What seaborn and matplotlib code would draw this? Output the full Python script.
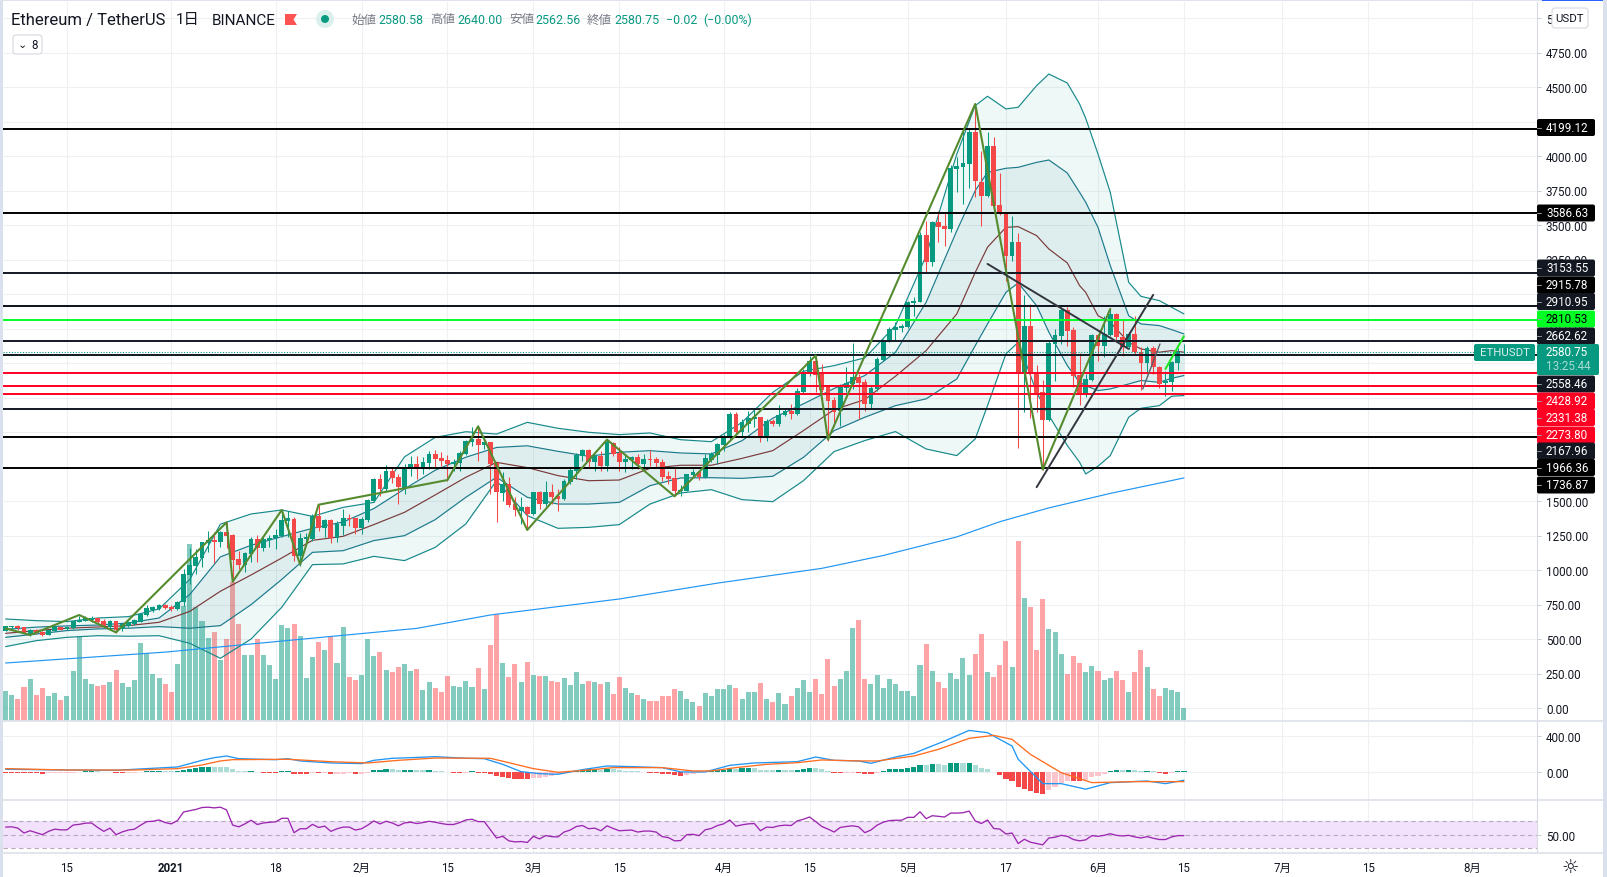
"""ETHUSDT daily chart with bands, zigzag, MACD and RSI panes."""
import matplotlib
matplotlib.use("Agg")
import matplotlib.pyplot as plt
from matplotlib.patches import Circle, FancyBboxPatch, Polygon, Rectangle
import numpy as np
import pandas as pd
import seaborn as sns

# candles, one per day from 2020-12-05 to 2021-06-15
opens = [
    560, 585, 592, 585, 536, 565, 551, 532, 561, 585,
    570, 577, 626, 633, 640, 650, 633, 585, 628, 573,
    597, 609, 626, 674, 713, 718, 744, 734, 718, 766,
    964, 1031, 1087, 1196, 1215, 1205, 1273, 1254, 1080, 1039,
    1116, 1225, 1159, 1220, 1229, 1249, 1357, 1370, 1104, 1225,
    1225, 1394, 1304, 1362, 1229, 1321, 1377, 1374, 1304, 1365,
    1502, 1659, 1587, 1720, 1676, 1587, 1737, 1768, 1732, 1773,
    1841, 1812, 1797, 1766, 1773, 1838, 1930, 1949, 1906, 1925,
    1775, 1558, 1623, 1478, 1430, 1457, 1406, 1563, 1478, 1563,
    1539, 1515, 1635, 1720, 1829, 1870, 1780, 1824, 1756, 1920,
    1848, 1785, 1800, 1817, 1768, 1804, 1804, 1780, 1679, 1664,
    1570, 1575, 1688, 1708, 1672, 1800, 1833, 1906, 1954, 2130,
    1998, 2058, 2094, 2106, 1957, 2080, 2058, 2123, 2152, 2130,
    2288, 2421, 2517, 2421, 2324, 2235, 2155, 2319, 2348, 2401,
    2365, 2203, 2312, 2525, 2655, 2742, 2752, 2759, 2935, 2940,
    3428, 3230, 3520, 3491, 3471, 3906, 3923, 3942, 4177, 3814,
    3713, 4070, 3645, 3582, 3278, 3380, 2428, 2771, 2428, 2288,
    2090, 2638, 2699, 2885, 2742, 2414, 2269, 2380, 2703, 2626,
    2703, 2855, 2687, 2614, 2711, 2583, 2501, 2607, 2469, 2353,
    2365, 2501, 2580.58]
closes = [
    592, 592, 577, 544, 568, 541, 532, 563, 587, 568,
    590, 628, 640, 650, 650, 621, 592, 628, 568, 606,
    626, 638, 681, 725, 730, 747, 725, 718, 766, 971,
    1036, 1094, 1201, 1217, 1205, 1273, 1244, 1075, 1039, 1123,
    1225, 1159, 1225, 1234, 1256, 1362, 1377, 1104, 1232, 1237,
    1394, 1304, 1362, 1229, 1331, 1374, 1370, 1304, 1370, 1507,
    1659, 1587, 1715, 1667, 1601, 1744, 1768, 1732, 1780, 1841,
    1804, 1790, 1768, 1780, 1848, 1935, 1949, 1906, 1925, 1768,
    1563, 1623, 1474, 1435, 1457, 1406, 1563, 1478, 1563, 1527,
    1515, 1645, 1725, 1836, 1867, 1780, 1824, 1756, 1930, 1841,
    1785, 1804, 1817, 1768, 1804, 1797, 1775, 1672, 1660, 1575,
    1582, 1693, 1708, 1672, 1809, 1841, 1911, 1964, 2128, 1998,
    2070, 2099, 2106, 1961, 2077, 2058, 2126, 2152, 2130, 2295,
    2433, 2517, 2414, 2307, 2228, 2148, 2324, 2356, 2397, 2356,
    2203, 2317, 2529, 2662, 2747, 2759, 2766, 2940, 2947, 3428,
    3230, 3520, 3488, 3471, 3911, 3925, 3950, 4177, 3821, 3713,
    4070, 3640, 3578, 3278, 3375, 2433, 2771, 2433, 2283, 2090,
    2645, 2703, 2887, 2735, 2409, 2269, 2385, 2703, 2626, 2711,
    2855, 2687, 2614, 2711, 2578, 2501, 2609, 2469, 2348, 2370,
    2505, 2578, 2580.75]
highs = [
    595, 597, 601, 588, 572, 570, 555, 566, 592, 590,
    594, 634, 669, 664, 664, 655, 645, 640, 633, 612,
    632, 645, 686, 746, 742, 752, 754, 746, 772, 1007,
    1157, 1152, 1205, 1285, 1273, 1285, 1345, 1261, 1140, 1128,
    1237, 1254, 1237, 1254, 1297, 1430, 1430, 1382, 1266, 1266,
    1406, 1471, 1370, 1370, 1357, 1442, 1406, 1377, 1382, 1514,
    1664, 1696, 1761, 1737, 1696, 1768, 1829, 1824, 1817, 1865,
    1870, 1853, 1833, 1804, 1865, 1945, 2034, 2041, 1945, 1930,
    1780, 1708, 1672, 1527, 1527, 1466, 1568, 1575, 1647, 1623,
    1587, 1660, 1744, 1846, 1877, 1877, 1833, 1865, 1942, 1930,
    1889, 1841, 1824, 1841, 1841, 1870, 1817, 1804, 1720, 1737,
    1616, 1698, 1732, 1720, 1841, 1853, 1920, 1986, 2147, 2143,
    2094, 2155, 2172, 2111, 2094, 2094, 2196, 2172, 2203, 2316,
    2456, 2549, 2553, 2493, 2341, 2252, 2348, 2469, 2645, 2421,
    2385, 2336, 2541, 2674, 2764, 2795, 2783, 2952, 2976, 3447,
    3532, 3532, 3604, 3587, 3935, 3991, 4196, 4201, 4377, 4039,
    4172, 4135, 3877, 3587, 3568, 3442, 2993, 2928, 2486, 2380,
    2670, 2747, 2904, 2904, 2759, 2573, 2421, 2709, 2709, 2843,
    2892, 2863, 2814, 2723, 2843, 2614, 2626, 2621, 2481, 2445,
    2517, 2607, 2640]
lows = [
    555, 575, 568, 540, 519, 538, 522, 530, 558, 565,
    566, 574, 621, 628, 626, 616, 585, 580, 541, 560,
    590, 603, 620, 669, 693, 712, 718, 706, 712, 742,
    899, 971, 1019, 1128, 1051, 1164, 1157, 911, 1007, 983,
    1056, 1056, 1140, 1164, 1152, 1237, 1237, 1068, 1031, 1176,
    1213, 1285, 1237, 1196, 1205, 1254, 1321, 1261, 1261, 1345,
    1495, 1539, 1575, 1630, 1478, 1551, 1684, 1660, 1696, 1732,
    1744, 1756, 1647, 1720, 1720, 1833, 1901, 1792, 1877, 1551,
    1346, 1503, 1454, 1394, 1334, 1297, 1401, 1442, 1466, 1478,
    1430, 1510, 1623, 1660, 1792, 1744, 1720, 1720, 1720, 1829,
    1720, 1708, 1732, 1732, 1720, 1756, 1744, 1647, 1623, 1544,
    1539, 1570, 1679, 1652, 1667, 1780, 1768, 1865, 1949, 1986,
    1961, 1998, 2034, 1925, 1937, 2041, 2046, 2118, 2094, 2126,
    2283, 2409, 2288, 2288, 1938, 2071, 2047, 2288, 2312, 2095,
    2155, 2167, 2300, 2517, 2650, 2662, 2723, 2752, 2843, 2940,
    3157, 3201, 3375, 3351, 3447, 3737, 3652, 3766, 3701, 3495,
    3701, 3592, 3573, 3097, 3242, 1882, 2147, 2099, 2144, 1728,
    2083, 2373, 2638, 2626, 2324, 2196, 2252, 2373, 2517, 2542,
    2694, 2650, 2549, 2602, 2566, 2307, 2421, 2421, 2317, 2259,
    2300, 2452, 2562.56]
volumes = [
    30, 26, 22, 34, 42, 26, 33, 25, 28, 21,
    25, 50, 85, 42, 37, 35, 36, 39, 51, 38,
    34, 41, 78, 68, 47, 43, 37, 29, 57, 115,
    177, 114, 100, 83, 89, 61, 82, 139, 97, 66,
    66, 82, 66, 56, 42, 96, 93, 97, 85, 43,
    64, 79, 71, 84, 58, 94, 44, 41, 46, 82,
    65, 69, 51, 49, 54, 57, 50, 52, 31, 39,
    33, 29, 45, 35, 34, 40, 34, 53, 32, 76,
    107, 58, 44, 57, 39, 59, 46, 45, 45, 40,
    39, 43, 36, 49, 37, 40, 39, 37, 39, 27,
    44, 33, 28, 26, 22, 20, 20, 25, 25, 32,
    30, 22, 19, 15, 28, 25, 32, 32, 36, 33,
    22, 29, 29, 38, 22, 19, 28, 17, 25, 33,
    41, 29, 42, 27, 62, 35, 42, 50, 93, 101,
    42, 37, 46, 33, 42, 37, 30, 30, 25, 56,
    77, 50, 39, 33, 48, 42, 63, 46, 67, 87,
    49, 44, 56, 80, 54, 180, 123, 114, 71, 122,
    92, 89, 67, 47, 65, 58, 49, 55, 50, 41,
    43, 50, 41, 29, 49, 71, 54, 32, 25, 33,
    31, 29, 13]

# bands, read every few days
band_days = [0, 5, 10, 15, 20, 25, 30, 35, 40, 45, 50, 55, 60, 65, 70, 75, 80, 85, 90, 95,
             100, 105, 110, 115, 120, 125, 130, 135, 140, 145, 150, 155, 158, 160, 163,
             165, 168, 170, 173, 175, 176, 178, 180, 183, 185, 188, 190, 192]
band_upper2 = [645, 633, 626, 652, 662, 718, 931, 1332, 1406, 1435, 1389, 1454, 1490, 1820,
               1961, 2002, 1985, 2070, 2027, 1998, 1981, 1993, 1944, 1930, 2070, 2287, 2440,
               2481, 2537, 2771, 3278, 4015, 4365, 4433, 4341, 4353, 4510, 4594, 4529, 4377,
               4273, 4015, 3737, 3085, 2983, 2952, 2904, 2856]
band_upper1 = [570, 586, 595, 601, 616, 652, 822, 1095, 1179, 1242, 1302, 1348, 1445, 1587,
               1723, 1817, 1888, 1900, 1860, 1824, 1853, 1865, 1848, 1841, 1937, 2100, 2204,
               2315, 2409, 2578, 2940, 3459, 3749, 3882, 3911, 3918, 3954, 3971, 3877, 3737,
               3665, 3483, 3206, 2843, 2783, 2771, 2742, 2711]
band_mid = [541, 561, 578, 587, 597, 621, 700, 846, 964, 1087, 1215, 1244, 1329, 1418,
            1544, 1672, 1780, 1742, 1684, 1647, 1652, 1737, 1759, 1759, 1809, 1865, 2010,
            2162, 2235, 2404, 2590, 2856, 3157, 3339, 3483, 3488, 3423, 3326, 3225, 3061,
            3012, 2843, 2795, 2650, 2602, 2578, 2590, 2578]
band_lower1 = [512, 536, 561, 573, 578, 590, 578, 597, 749, 932, 1128, 1140, 1213, 1249,
               1365, 1527, 1672, 1527, 1478, 1478, 1490, 1611, 1667, 1669, 1664, 1679, 1816,
               2010, 2107, 2191, 2240, 2385, 2626, 2783, 3012, 3080, 2916, 2723, 2481, 2360,
               2336, 2300, 2312, 2348, 2373, 2360, 2389, 2409]
band_lower2 = [445, 488, 512, 524, 520, 524, 469, 360, 500, 730, 1039, 1044, 1099, 1068,
               1164, 1334, 1647, 1394, 1302, 1309, 1329, 1478, 1558, 1582, 1510, 1495, 1647,
               1858, 1938, 2003, 1877, 1829, 1950, 2191, 2566, 2650, 2288, 2119, 1902, 1781,
               1696, 1752, 1829, 2107, 2172, 2191, 2259, 2264]

ma_days = [0, 26, 45, 67, 79, 100, 116, 133, 143, 155, 162, 170, 180, 192]
ma_long = [326, 405, 485, 577, 674, 790, 905, 1012, 1105, 1240, 1350, 1450, 1555, 1667]

zigzag_days = [0, 4, 12, 18, 36, 37, 45, 48, 51, 72, 77, 85, 98, 109, 132, 134, 158, 169, 180]
zigzag_prices = [577, 529, 674, 548, 1345, 915, 1435, 1039, 1473, 1652, 2041, 1290, 1945,
                 1534, 2554, 1945, 4377, 1728, 2892]
last_leg_days = [189, 192]
last_leg_prices = [2457, 2694]

trend_lines = [([160, 183], [3218, 2602]), ([168, 187], [1600, 2994])]
short_trend_days = [185.3, 188.1]
short_trend_prices = [2312, 2638]

level_values = [4199.12, 3586.63, 3153.55, 2915.78, 2910.95, 2662.62, 2558.46, 2167.96, 1966.36, 1736.87]
level_colors = ["#000000", "#000000", "#131722", "#000000", "#131722", "#131722", "#131722",
                "#131722", "#000000", "#000000"]
green_levels = [2810.53]
red_levels = [2428.92, 2331.38, 2273.80]
last_price = 2580.75

# macd pane
macd_days = [0, 10, 18, 26, 28, 32, 34, 36, 38, 44, 46, 48, 53, 58, 60, 63, 66, 70, 75, 78,
             81, 84, 87, 90, 94, 98, 102, 107, 110, 114, 118, 122, 129, 132, 135, 139, 141,
             145, 148, 150, 153, 157, 160, 164, 165, 169, 172, 176, 180, 186, 189, 192]
macd_line = [33, 25, 22, 51, 58, 131, 160, 178, 149, 138, 149, 124, 102, 95, 131, 153, 160,
             171, 153, 149, 87, 7, -15, -22, 29, 69, 62, 51, 4, 4, 76, 102, 116, 167, 131, 124,
             98, 167, 207, 262, 342, 458, 433, 287, 142, -124, -124, -185, -113, -95, -124, -87]
signal_days = [0, 10, 21, 28, 32, 35, 37, 46, 48, 53, 59, 64, 70, 79, 82, 86, 90, 95, 99, 107,
               112, 115, 119, 124, 129, 133, 139, 142, 148, 152, 157, 161, 164, 167, 172, 177,
               184, 192]
signal_line = [40, 25, 25, 40, 80, 124, 138, 142, 135, 116, 102, 131, 156, 153, 105, 40, 0, 25,
               51, 51, 15, 15, 51, 87, 105, 135, 124, 124, 178, 251, 371, 404, 360, 196, -4,
               -113, -102, -102]
hist_values = [
    -4, -4, -4, -4, -4, -4, -20, -3, -3, -3,
    -3, -3, 4, 15, 15, 15, 5, 5, -3, -3,
    -3, -3, 5, 15, 15, 15, 15, 15, 15, 25,
    36, 47, 58, 58, 58, 58, 58, 36, 15, 15,
    15, 4, -4, -4, -4, 15, 15, -18, -18, -18,
    -4, -4, -4, -18, -18, -18, -4, -18, -18, -4,
    25, 25, 36, 36, 25, 25, 25, 25, 25, 25,
    15, 15, 2, -4, -4, -4, 15, -4, -4, -15,
    -40, -50, -62, -69, -69, -73, -62, -62, -47, -36,
    -22, -4, 3, 15, 25, 40, 40, 25, 40, 40,
    25, 15, 15, 15, 3, -4, -4, -15, -15, -25,
    -36, -25, -15, -8, -2, 15, 25, 25, 40, 40,
    47, 47, 47, 25, 25, 25, 25, 25, 25, 25,
    33, 47, 47, 36, 15, -4, -4, -4, -4, -4,
    -15, -15, -4, 15, 36, 36, 36, 47, 58, 80,
    80, 91, 91, 80, 102, 102, 102, 102, 80, 47,
    36, 7, -29, -73, -95, -156, -182, -204, -225, -233,
    -193, -160, -116, -95, -95, -95, -84, -51, -40, -22,
    15, 25, 25, 25, 25, 15, 15, 15, -8, -15,
    -4, 15, 15]
hist_states = ("rrrrrrrppp" "pptttlllrr" "ppttttlltt" "ttttllllll" "tlrrrttrrr"
               "prprppprpp" "tttllttllt" "lllrrptrrr" "rrrrrrpppp" "pplttttltl"
               "lllllrrrrr" "rppppttttl" "ttlllltllt" "ttlllrrppr" "rrpttttttt"
               "ltllttltll" "llrrrrrrrr" "pppprrpppp" "ttltlltlrr" "ptt")

# rsi pane
rsi_values = [
    61, 61.4, 59.5, 52.4, 55.7, 52.9, 50, 54.8, 58, 57,
    57, 64, 65, 66.7, 67, 60.5, 54.8, 59.5, 50, 54,
    56.7, 58, 63.8, 69, 69.5, 71.4, 67.6, 65.7, 70.5, 83,
    84.8, 86.7, 89.5, 90, 89, 90, 86, 64, 61.4, 65.7,
    71, 64.8, 67, 68, 68.6, 73.8, 73.8, 52.9, 58.6, 58.6,
    65, 60.5, 62.4, 54.8, 58.6, 61, 61, 56.7, 58.6, 63.8,
    70, 65.7, 69.5, 67, 62.9, 67.1, 68.1, 66.2, 67.6, 69.5,
    68.1, 66.2, 64.8, 64.8, 67.6, 71.4, 72.4, 69, 69, 57.1,
    45.2, 47.6, 41, 39.5, 40, 38.6, 47.6, 43.8, 48.6, 47.1,
    46.7, 53.8, 56.7, 61.9, 63.3, 58.6, 59.5, 55.7, 62.9, 59,
    55.7, 56.2, 56.7, 53.8, 55.2, 55.2, 53.8, 47.1, 45.7, 41,
    41.4, 50, 50.5, 48.6, 57.1, 59, 63.3, 65.7, 71.4, 62.4,
    64.3, 65.7, 66.2, 55.7, 61, 60.5, 62.9, 63.8, 63.3, 70,
    72.4, 75.7, 69, 61.9, 58.1, 53.8, 60.5, 61.9, 62.9, 61.4,
    52.9, 56.7, 63.8, 68.1, 70.5, 71, 71, 75.2, 75.2, 83.3,
    73.3, 77.6, 76.7, 75.7, 81.4, 81.4, 81.9, 84.3, 70, 66.2,
    71.4, 59, 58.1, 51, 52.4, 37.1, 43.3, 39, 37.1, 35.2,
    45.2, 46.2, 49, 47.6, 42.9, 41, 42.4, 48.6, 47.6, 49,
    51.4, 49, 48.1, 49, 46.7, 45.2, 47.1, 44.8, 42.9, 42.9,
    46.7, 48.6, 48.6]

# date axis
tick_days = [10, 27, 44, 58, 72, 86, 100, 117, 131, 147, 163, 178, 192, 208, 222, 239]
tick_labels = ["15", "2021", "18", "2月", "15", "3月", "15", "4月", "15", "5月", "17", "6月",
               "15", "7月", "15", "8月"]
price_ticks = [0, 250, 500, 750, 1000, 1250, 1500, 1750, 2000, 2250, 2500, 2750, 3000, 3250,
               3500, 3750, 4000, 4250, 4500, 4750, 5000]

# right-hand price tags
tag_texts = ["4199.12", "3586.63", "3153.55", "2915.78", "2910.95", "2810.53", "2662.62",
             "2558.46", "2428.92", "2331.38", "2273.80", "2167.96", "1966.36", "1736.87"]
tag_rows = [128.5, 214, 269, 286, 302.5, 320, 337, 385, 402, 418.5, 436, 452, 468.5, 486]
tag_fills = ["#000000", "#000000", "#131722", "#000000", "#131722", "#00ff22", "#131722",
             "#131722", "#ff0022", "#ff0022", "#ff0022", "#131722", "#000000", "#000000"]
tag_inks = ["white", "white", "white", "white", "white", "black", "white",
            "white", "white", "white", "white", "white", "white", "white"]

UP, DOWN = "#089981", "#f44747"
HIST_COLORS = {"t": "#089981", "l": "#acdcd6", "r": "#f44747", "p": "#fcc4cb"}
GRID = "#eef0f4"
FIG_W, FIG_H = 1608, 878
AXIS_X = 1537
LABEL_SIZE = 8.4

sns.set_theme(style="white")
plt.rcParams["font.family"] = ["Roboto", "Noto Sans CJK JP", "DejaVu Sans"]
plt.rcParams["axes.linewidth"] = 0.8

days = np.arange(len(closes))
is_up = np.array(closes) >= np.array(opens)
xlim = ((3 - 5.6) / 6.137, (AXIS_X - 5.6) / 6.137)

fig = plt.figure(figsize=(FIG_W / 100, FIG_H / 100), dpi=100, facecolor="white")


def pane(top, bottom, zorder=1):
    ax = fig.add_axes([3 / FIG_W, 1 - bottom / FIG_H, (AXIS_X - 3) / FIG_W, (bottom - top) / FIG_H],
                      zorder=zorder)
    ax.set_xlim(*xlim)
    ax.patch.set_alpha(0)
    for side in ("left", "top", "bottom"):
        ax.spines[side].set_visible(False)
    ax.spines["right"].set_color("#d6dae3")
    return ax


def right_ticks(ax, ticks, labels):
    ax.yaxis.tick_right()
    ax.set_yticks(ticks, labels)
    ax.tick_params(axis="y", length=3, width=0.7, color="#c8ccd6", pad=3.4, labelsize=LABEL_SIZE,
                   labelcolor="#131722", right=True)
    ax.set_xticks(tick_days, [])
    ax.tick_params(axis="x", length=0)


def line(ax, x, y, color, lw, zorder=3):
    sns.lineplot(x=x, y=y, color=color, linewidth=lw, estimator=None, ax=ax, zorder=zorder)
    ax.set_xlabel("")
    ax.set_ylabel("")


price_lim = ((709 - 722) / 0.138, (709 - 3) / 0.138)

# grid sits under the volume bars
ax_grid = pane(3, 722, zorder=0)
ax_grid.set_ylim(*price_lim)
right_ticks(ax_grid, price_ticks, [])
ax_grid.tick_params(axis="y", length=0)
ax_grid.grid(True, color=GRID, linewidth=0.8)
ax_grid.spines["right"].set_visible(False)

ax_vol = pane(3, 722, zorder=1)
vol_df = pd.DataFrame({"day": days, "volume": volumes, "side": np.where(is_up, "up", "down")})
sns.barplot(data=vol_df, x="day", y="volume", hue="side", palette={"up": UP, "down": "#ff4a4f"},
            native_scale=True, dodge=False, width=0.82, gap=0, saturation=1, alpha=0.5,
            errorbar=None, legend=False, linewidth=0, ax=ax_vol)
ax_vol.set_xlim(*xlim)
ax_vol.set_ylim(0, 719)
ax_vol.axis("off")

ax = pane(3, 722, zorder=2)
ax.set_ylim(*price_lim)
right_ticks(ax, price_ticks, [f"{p:.2f}" for p in price_ticks])

ax.fill_between(band_days, band_lower2, band_upper2, color="#26a69a", alpha=0.08, linewidth=0, zorder=1)
ax.fill_between(band_days, band_lower1, band_upper1, color="#26767a", alpha=0.07, linewidth=0, zorder=1)
line(ax, band_days, band_upper2, "#17898a", 0.85)
line(ax, band_days, band_lower2, "#17898a", 0.85)
line(ax, band_days, band_upper1, "#1b7a8c", 0.85)
line(ax, band_days, band_lower1, "#1b7a8c", 0.85)
line(ax, band_days, band_mid, "#7b3a3a", 0.85)
line(ax, ma_days, ma_long, "#2196f3", 0.85)

# wicks and bodies
bar_colors = np.where(is_up, UP, DOWN)
ax.vlines(days, lows, highs, colors=bar_colors, linewidth=0.75, zorder=4)
ax.bar(days, np.abs(np.array(closes) - np.array(opens)), bottom=np.minimum(opens, closes),
       width=0.78, color=bar_colors, linewidth=0, zorder=5)

for value, color in zip(level_values, level_colors):
    ax.axhline(value, color=color, linewidth=1.4, zorder=6)
for value in red_levels:
    ax.axhline(value, color="#ff0022", linewidth=1.4, zorder=6)
for value in green_levels:
    ax.axhline(value, color="#00ff22", linewidth=1.4, zorder=6)
ax.axhline(last_price, color=UP, linewidth=0.8, linestyle=(0, (1, 1.5)), zorder=6)

line(ax, zigzag_days, zigzag_prices, "#558b2f", 1.5, zorder=7)
line(ax, last_leg_days, last_leg_prices, "#22e622", 1.5, zorder=7)
for xs, ys in trend_lines:
    line(ax, xs, ys, "#33363f", 1.4, zorder=7)
line(ax, short_trend_days, short_trend_prices, "#5d5f68", 1.0, zorder=7)
ax.set_xlim(*xlim)
ax.set_ylim(*price_lim)

# macd
ax_macd = pane(723, 801)
ax_macd.set_ylim(-303, 550)
right_ticks(ax_macd, [0, 400], ["0.00", "400.00"])
ax_macd.grid(True, color=GRID, linewidth=0.8)
ax_macd.set_axisbelow(True)
hist_df = pd.DataFrame({"day": days, "hist": hist_values, "state": list(hist_states)})
sns.barplot(data=hist_df, x="day", y="hist", hue="state", palette=HIST_COLORS, native_scale=True,
            dodge=False, width=0.85, gap=0, saturation=1, errorbar=None, legend=False,
            linewidth=0, ax=ax_macd)
line(ax_macd, macd_days, macd_line, "#2196f3", 0.95)
line(ax_macd, signal_days, signal_line, "#ff6d20", 0.95)
ax_macd.set_xlim(*xlim)
ax_macd.set_ylim(-303, 550)

# rsi
ax_rsi = pane(802, 854)
ax_rsi.set_ylim(23.3, 99)
right_ticks(ax_rsi, [50], ["50.00"])
ax_rsi.set_xticks(tick_days, tick_labels)
ax_rsi.tick_params(axis="x", length=0, pad=6, labelsize=8.3, labelcolor="#131722")
ax_rsi.get_xticklabels()[1].set_fontweight("bold")
ax_rsi.grid(True, axis="x", color=GRID, linewidth=0.8)
ax_rsi.set_axisbelow(True)
ax_rsi.axhspan(30, 70, color="#f3e2fb", linewidth=0, zorder=1)
for band in (30, 50, 70):
    ax_rsi.axhline(band, color="#b8a9bc", linewidth=0.8, linestyle=(0, (4, 3)), zorder=2)
line(ax_rsi, days, rsi_values, "#9c27b0", 0.95)
ax_rsi.set_xlim(*xlim)
ax_rsi.set_ylim(23.3, 99)

# header, frame and tags are drawn in pixel coordinates over everything
ov = fig.add_axes([0, 0, 1, 1], zorder=10)
ov.set_xlim(0, FIG_W)
ov.set_ylim(FIG_H, 0)
ov.axis("off")
ov.patch.set_alpha(0)

ov.add_patch(Rectangle((0, 0), 3, FIG_H, color="#dbe1ec", linewidth=0))
ov.add_patch(Rectangle((1603, 0), 5, FIG_H, color="#dbe1ec", linewidth=0))
ov.add_patch(Rectangle((0, 0), FIG_W, 2, color="#e0e3eb", linewidth=0))
ov.add_patch(Rectangle((1542, 0), 61, 2, color="#2962ff", linewidth=0))
for row in (722, 801, 854):
    ov.plot([3, 1603], [row, row], color="#e0e3eb", linewidth=1.3, solid_capstyle="butt")

ov.text(11, 21, "Ethereum / TetherUS", fontsize=12, color="#131722", va="center")
ov.text(176, 20, "1日", fontsize=11, color="#131722", va="center")
ov.text(212, 21, "BINANCE", fontsize=11, color="#131722", va="center")
ov.add_patch(Polygon([(285, 15), (297, 15), (293.5, 20.5), (297, 26), (285, 26)], color="#ff5252", linewidth=0))
ov.add_patch(Circle((325, 20), 9, color="#daf0ec", linewidth=0))
ov.add_patch(Circle((325, 20), 4, color=UP, linewidth=0))

legend_names = ["始値", "高値", "安値", "終値"]
legend_name_x = [351, 430, 509, 587]
legend_vals = ["2580.58", "2640.00", "2562.56", "2580.75"]
legend_val_x = [378, 457, 535, 614]
for name, nx, val, vx in zip(legend_names, legend_name_x, legend_vals, legend_val_x):
    ov.text(nx, 20, name, fontsize=9, color="#787b86", va="center")
    ov.text(vx, 20, val, fontsize=8.9, color=UP, va="center")
ov.text(666, 20, "−0.02", fontsize=8.9, color=UP, va="center")
ov.text(703, 20, "(−0.00%)", fontsize=8.9, color=UP, va="center")

ov.add_patch(FancyBboxPatch((13, 36), 29, 19, boxstyle="round,pad=0,rounding_size=3",
                            facecolor="white", edgecolor="#d6d8e0", linewidth=0.8))
ov.text(22, 45.5, "⌄", fontsize=8, color="#131722", ha="center", va="center", family="DejaVu Sans")
ov.text(35, 45.5, "8", fontsize=8.3, color="#131722", ha="center", va="center")

ov.add_patch(FancyBboxPatch((1552, 9), 36, 20, boxstyle="round,pad=0,rounding_size=3",
                            facecolor="white", edgecolor="#d6d8e0", linewidth=0.8))
ov.text(1570, 19, "USDT", fontsize=8.2, color="#131722", ha="center", va="center")

for text, row, fill, ink in zip(tag_texts, tag_rows, tag_fills, tag_inks):
    ov.add_patch(FancyBboxPatch((AXIS_X, row - 8.5), 58, 17, boxstyle="round,pad=0,rounding_size=2",
                                facecolor=fill, edgecolor="none"))
    ov.plot([AXIS_X, AXIS_X + 4], [row, row], color="#9598a1", linewidth=0.7)
    ov.text(1546, row, text, fontsize=LABEL_SIZE, color=ink, va="center")

ov.add_patch(FancyBboxPatch((1474, 345), 61, 17, boxstyle="round,pad=0,rounding_size=2",
                            facecolor=UP, edgecolor="none"))
ov.text(1504.5, 353.5, "ETHUSDT", fontsize=8.2, color="#d8f0ec", ha="center", va="center")
ov.add_patch(FancyBboxPatch((AXIS_X, 345), 62, 31, boxstyle="round,pad=0,rounding_size=2",
                            facecolor=UP, edgecolor="none"))
ov.text(1546, 353, "2580.75", fontsize=LABEL_SIZE, color="white", va="center")
ov.text(1546, 367, "13:25:44", fontsize=LABEL_SIZE, color="#a8dcd4", va="center")

ov.text(1570, 867, "☼", fontsize=14, color="#131722", ha="center", va="center", family="DejaVu Sans")

fig.savefig("out.png", dpi=100, facecolor="white")
